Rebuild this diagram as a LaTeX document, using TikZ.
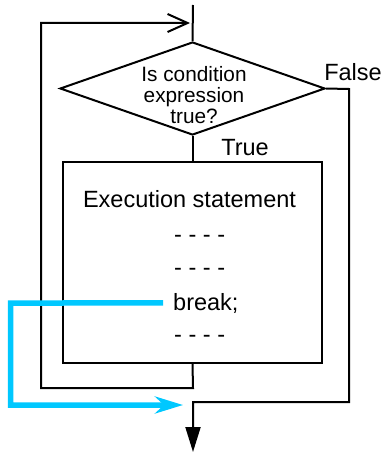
\documentclass[tikz,border=0pt]{standalone}
\usepackage{fontspec}
\setmainfont{Liberation Sans}
\usetikzlibrary{arrows.meta,shapes.geometric,calc}

\definecolor{breakblue}{HTML}{00C8FF}

\tikzset{
  flow/.style={draw=black, line width=2pt},
  decision/.style={flow, diamond, minimum width=265pt, minimum height=93pt, inner sep=0pt},
  block/.style={flow, rectangle, minimum width=259pt, minimum height=201pt, inner sep=0pt},
  bigtext/.style={font=\fontsize{23.5}{27}\selectfont, inner sep=0pt},
  smalltext/.style={font=\fontsize{20.8}{21}\selectfont, inner sep=0pt, align=center},
  jump/.style={draw=breakblue, line width=5.5pt, -{Stealth[length=28pt,width=17pt,inset=9pt]}},
}

\begin{document}
\begin{tikzpicture}[x=1pt, y=-1pt]
  \useasboundingbox (0,0) rectangle (385,452);

  % shapes
  \node[decision] (cond) at (192.5,88.5) {};
  \node[smalltext] (condtext) at (194,95) {Is condition\\expression\\true?};
  \node[block] (body) at (192.5,262.5) {};

  % texts in the loop body
  \node[bigtext, anchor=base] (exec) at (189.5,207) {Execution statement};
  \node[bigtext, anchor=base west] (d1) at (174,242) {- - - -};
  \node[bigtext, anchor=base west] (d2) at (174,275) {- - - -};
  \node[bigtext, anchor=base west] (brk) at (173,310) {break;};
  \node[bigtext, anchor=base west] (d3) at (174,342) {- - - -};

  % branch labels
  \node[bigtext] (truelbl) at (245,148) {True};
  \node[bigtext] (falselbl) at (353,72) {False};

  % free ends
  \coordinate (entry) at (193,5);
  \coordinate (exit) at (193,452);

  % entry and true branch
  \draw[flow] (entry) -- (cond.north);
  \draw[flow] (cond.south) -- (body.north);

  % loop back to the condition
  \draw[flow, -{Straight Barb[length=20pt,width=18pt]}]
    (body.south) -- (193,388) -- (41,388) -- (41,23) -- (190,23);

  % false branch leaves the loop
  \draw[flow, -{Triangle[length=25pt,width=15pt]}]
    (cond.east) -- (349,89) -- (349,402) -- (193,402) -- (exit);

  % break jumps out of the loop
  \draw[jump] ($(brk.west)+(-10,0)$) -- (10.5,303) -- (10.5,405) -- (183,405);
\end{tikzpicture}
\end{document}
